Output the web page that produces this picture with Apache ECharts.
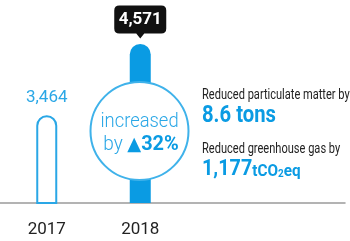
<!DOCTYPE html>
<html>
<head>
<meta charset="utf-8">
<script src="https://cdn.jsdelivr.net/npm/echarts@6/dist/echarts.min.js"></script>
<style>
  html, body { margin: 0; padding: 0; background: #fff; }
  #chart { width: 350px; height: 241px; }
</style>
</head>
<body>
<div id="chart"></div>
<script>
const years = ['2017', '2018']
const values = [3464, 4571]
const increase = '32%'
const notes = ['Reduced particulate matter by', 'Reduced greenhouse gas by']
const amounts = ['8.6 tons', '1,177']

const blue = '#0a9be3'
const lightBlue = '#2aa7e6'

const chart = echarts.init(document.getElementById('chart'))

const calloutPath = 'path://M5,0 H47 Q52,0 52,5 V23 Q52,28 47,28 H30 L26,33 L22,28 H5 Q0,28 0,23 V5 Q0,0 5,0 Z'

chart.setOption({
  animation: false,
  grid: [
    { left: -3, width: 190, top: 44, bottom: 38 },
    { left: 0, right: 5, top: 44, bottom: 38 }
  ],
  xAxis: [
    {
      type: 'category',
      gridIndex: 0,
      data: years,
      axisLine: { show: false },
      axisTick: { show: false },
      axisLabel: { color: '#222', fontSize: 17, fontFamily: 'Roboto', margin: 18 }
    },
    {
      type: 'category',
      gridIndex: 1,
      data: [''],
      axisLine: { lineStyle: { color: '#9a9a9a', width: 1.5 } },
      axisTick: { show: false },
      axisLabel: { show: false }
    }
  ],
  yAxis: [
    { type: 'value', gridIndex: 0, min: 2100, max: 4571, show: false },
    { type: 'value', gridIndex: 1, show: false }
  ],
  series: [
    {
      type: 'bar',
      xAxisIndex: 0,
      yAxisIndex: 0,
      barWidth: 21,
      data: [
        {
          value: values[0],
          itemStyle: { color: '#fff', borderColor: lightBlue, borderWidth: 2, borderRadius: [10, 10, 0, 0] },
          label: {
            show: true,
            position: 'top',
            distance: 9,
            formatter: (p) => p.value.toLocaleString('en-US'),
            color: lightBlue,
            fontSize: 17,
            fontFamily: 'Roboto'
          }
        },
        {
          value: values[1],
          itemStyle: { color: blue, borderRadius: [11, 11, 0, 0] }
        }
      ],
      markPoint: {
        symbol: calloutPath,
        symbolSize: [52, 33],
        symbolOffset: [0, -22],
        itemStyle: { color: '#111' },
        label: {
          show: true,
          offset: [0, -2],
          color: '#fff',
          fontSize: 17,
          fontWeight: 'bold',
          fontFamily: 'Roboto',
          formatter: (p) => p.value.toLocaleString('en-US')
        },
        data: [{ coord: [years[1], values[1]], value: values[1] }]
      }
    }
  ],
  graphic: [
    {
      type: 'text',
      left: 8,
      top: -11,
      style: { text: '(Unit: cases)', fill: '#888', fontSize: 11, fontFamily: 'Roboto' }
    },
    {
      type: 'circle',
      z: 100,
      shape: { cx: 139.5, cy: 131, r: 49 },
      style: { fill: '#fff', stroke: '#3fb2ea', lineWidth: 2 }
    },
    {
      type: 'text',
      z: 101,
      x: 139.5,
      y: 122,
      scaleX: 0.92,
      style: {
        text: 'increased',
        fill: lightBlue,
        fontSize: 20,
        fontFamily: 'Roboto',
        fontWeight: 300,
        align: 'center',
        verticalAlign: 'middle'
      }
    },
    {
      type: 'text',
      z: 101,
      x: 141,
      y: 145,
      scaleX: 0.95,
      style: {
        text: '{a|by }{t|▲}{b|' + increase + '}',
        align: 'center',
        verticalAlign: 'middle',
        rich: {
          a: { fill: lightBlue, fontSize: 20, fontFamily: 'Roboto', fontWeight: 300 },
          t: { fill: blue, fontSize: 19, fontFamily: 'DejaVu Sans' },
          b: { fill: blue, fontSize: 21, fontFamily: 'Roboto', fontWeight: 'bold' }
        }
      }
    },
    {
      type: 'text',
      x: 202,
      y: 88,
      scaleX: 0.79,
      style: { text: notes[0], fill: '#222', fontSize: 14, fontFamily: 'Roboto' }
    },
    {
      type: 'text',
      x: 202,
      y: 105,
      scaleX: 0.88,
      style: { text: amounts[0], fill: blue, fontSize: 23, fontWeight: 'bold', fontFamily: 'Roboto' }
    },
    {
      type: 'text',
      x: 202,
      y: 142,
      scaleX: 0.79,
      style: { text: notes[1], fill: '#222', fontSize: 14, fontFamily: 'Roboto' }
    },
    {
      type: 'text',
      x: 202,
      y: 158,
      scaleX: 0.9,
      style: {
        text: '{n|' + amounts[1] + '}{u|tCO}{s|2}{u|eq}',
        rich: {
          n: { fill: blue, fontSize: 22, fontWeight: 'bold', fontFamily: 'Roboto', verticalAlign: 'bottom' },
          u: { fill: blue, fontSize: 17, fontWeight: 'bold', fontFamily: 'Roboto', verticalAlign: 'bottom' },
          s: { fill: blue, fontSize: 11, fontWeight: 'bold', fontFamily: 'Roboto', verticalAlign: 'bottom' }
        }
      }
    }
  ]
})
</script>
</body>
</html>
